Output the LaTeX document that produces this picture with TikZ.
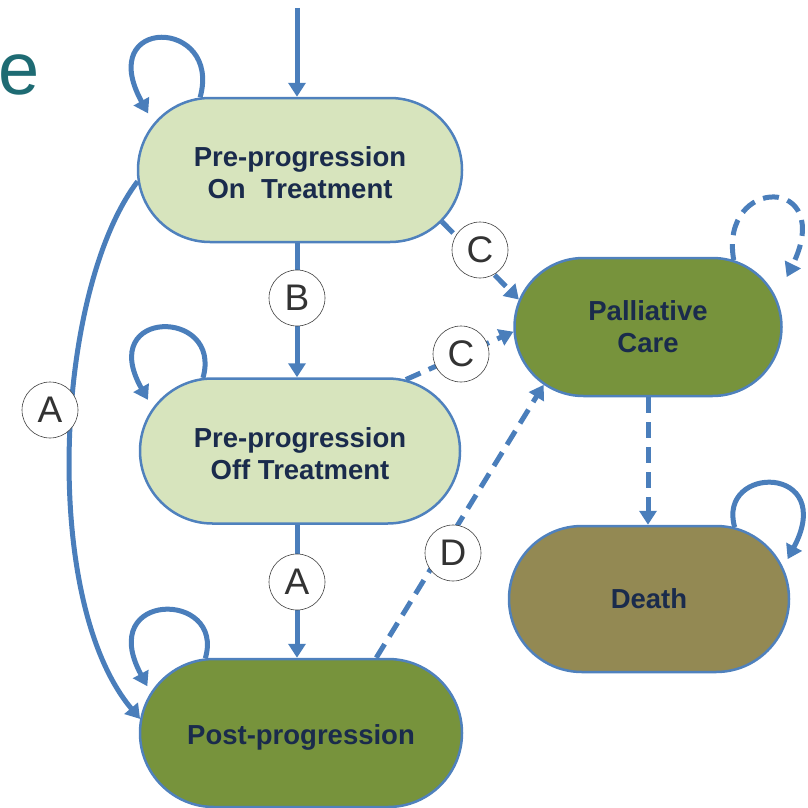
\documentclass[tikz,border=0pt]{standalone}
\usepackage{fontspec}
\setmainfont{Liberation Sans}
\usetikzlibrary{shapes.misc,arrows.meta,calc}
\definecolor{lightgreen}{HTML}{D7E4BD}
\definecolor{darkgreen}{HTML}{77933C}
\definecolor{olivebrown}{HTML}{938953}
\definecolor{borderblue}{HTML}{4F81BD}
\definecolor{arrowblue}{HTML}{4A7EBB}
\definecolor{navytext}{HTML}{1A2B4C}
\definecolor{tealtext}{HTML}{1E6B73}
\newcommand{\lowertext}[2]{\raisebox{-#1}[\height][\depth]{#2}}
\tikzset{
  stnode/.style={rounded rectangle, draw=borderblue, line width=2.5pt, text=navytext,
    align=center, font=\fontsize{27.5}{32}\selectfont\bfseries, inner sep=0pt},
  arr/.style={draw=arrowblue, line width=5pt, -{Triangle[length=14pt,width=17pt]}},
  darr/.style={arr, dash pattern=on 16pt off 9pt},
  lbl/.style={circle, draw=black!75, line width=0.6pt, fill=white, minimum size=56pt,
    inner sep=0pt, text=black!80, font=\fontsize{37}{37}\selectfont}
}
\begin{document}
\begin{tikzpicture}[x=1pt,y=-1pt]
\useasboundingbox (0,0) rectangle (807,808);
% title fragment
\node[anchor=base west, inner sep=0pt, text=tealtext, font=\fontsize{74}{74}\selectfont] (title) at (-2,94) {e};
% states
\node[stnode, fill=lightgreen, minimum width=324pt, minimum height=144pt] (n1) at (300,170) {\lowertext{6pt}{\begin{tabular}{@{}c@{}}Pre-progression\\On\ \ Treatment\end{tabular}}};
\node[stnode, fill=lightgreen, minimum width=320pt, minimum height=145pt] (n2) at (300,451) {\lowertext{6pt}{\begin{tabular}{@{}c@{}}Pre-progression\\Off Treatment\end{tabular}}};
\node[stnode, fill=darkgreen, minimum width=322pt, minimum height=148pt] (n3) at (301,733) {\lowertext{4pt}{Post-progression}};
\node[stnode, fill=darkgreen, minimum width=267pt, minimum height=138pt] (n4) at (648,327) {Palliative\\Care};
\node[stnode, fill=olivebrown, minimum width=280pt, minimum height=146pt] (n5) at (649,599) {Death};
% entry
\coordinate (entry) at (297,8);
\draw[arr] (entry) -- (entry |- n1.north);
% main transitions
\draw[arr] (n1.south -| entry) -- (n2.north -| entry);
\draw[arr] (n2.south -| entry) -- (n3.north -| entry);
\draw[arr] (n1.184) .. controls (55,290) and (40,600) .. (n3.175);
\draw[darr] (n1.-20) -- (n4.168);
\draw[darr] (n2.34) -- (n4.182);
\draw[darr] (n3.45) -- (n4.209);
\draw[darr] (n4.south) -- (n4.south |- n5.north);
% self loops
\draw[arr] (n1.144) .. controls +(22,-80) and +(-54,-98) .. ($(n1.144)+(-52,16)$);
\draw[arr] (n2.143) .. controls +(20,-70) and +(-52,-92) .. ($(n2.143)+(-55,22)$);
\draw[arr] (n3.142) .. controls +(20,-68) and +(-52,-96) .. ($(n3.142)+(-58,28)$);
\draw[darr] (n4.38) .. controls +(-15,-85) and +(50,-102) .. ($(n4.38)+(53,17)$);
\draw[arr] (n5.40) .. controls +(-18,-63) and +(50,-95) .. ($(n5.40)+(53,32)$);
% labels
\node[lbl] (lB) at (297,298) {B};
\node[lbl] (lA2) at (297,582) {A};
\node[lbl] (lA1) at (50,410) {A};
\node[lbl] (lC1) at (480,250) {C};
\node[lbl] (lC2) at (461,354) {C};
\node[lbl] (lD) at (453,553) {D};
\end{tikzpicture}
\end{document}
